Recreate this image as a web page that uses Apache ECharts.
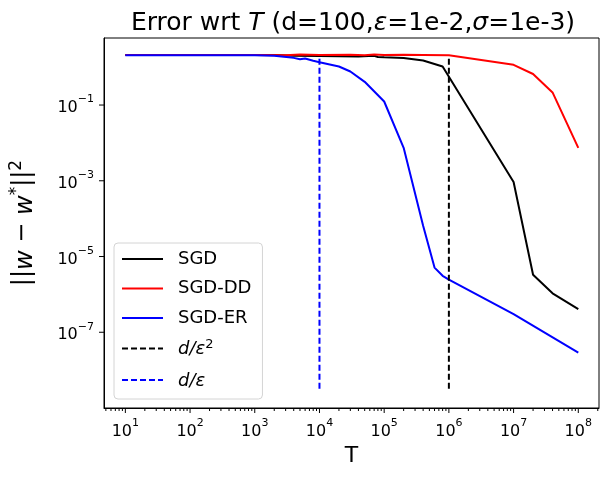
<!DOCTYPE html>
<html>
<head>
<meta charset="utf-8">
<script src="https://cdn.jsdelivr.net/npm/echarts@6/dist/echarts.min.js"></script>
<style>
  html, body { margin: 0; padding: 0; background: #fff; }
  #chart { width: 610px; height: 479px; }
</style>
</head>
<body>
<div id="chart"></div>
<script>
// values (T on x, ||w - w*||^2 on y)
const sgdT = [10, 100, 1000, 2000, 4000, 1e4, 2e4, 4e4, 7e4, 8e4, 1e5, 2e5, 4e5, 8e5, 1e7, 2e7, 4e7, 1e8];
const sgdErr = [2.1, 2.1, 2.1, 2.08, 2.0, 1.97, 1.93, 1.9, 2.0, 1.85, 1.82, 1.74, 1.5, 1.04, 9.3e-4, 3.3e-6, 1.07e-6, 4.1e-7];

const ddT = [10, 100, 1000, 3000, 5000, 1e4, 3e4, 5e4, 7e4, 1e5, 2e5, 4e5, 1e6, 1e7, 2e7, 4e7, 1e8];
const ddErr = [2.1, 2.1, 2.1, 2.05, 2.15, 2.1, 2.12, 2.05, 2.15, 2.1, 2.12, 2.1, 2.07, 1.15, 0.66, 0.215, 0.0074];

const erT = [10, 100, 1000, 2000, 4000, 5000, 6000, 8000, 1e4, 2e4, 3e4, 5e4, 1e5, 2e5, 4e5, 6e5, 8e5, 1e6, 1e7, 1e8];
const erErr = [2.05, 2.05, 2.05, 2.0, 1.76, 1.62, 1.7, 1.47, 1.35, 1.04, 0.77, 0.41, 0.124, 0.0074, 6.5e-5, 5.1e-6, 3.1e-6, 2.46e-6, 3.0e-7, 2.9e-8];

// vertical reference lines d/eps^2 and d/eps
const vlineY = [3.2e-9, 2.0];
const dEps2X = 1e6;
const dEpsX = 1e4;

// axis ticks
const xTickExp = [1, 2, 3, 4, 5, 6, 7, 8];
const yTickExp = [-7, -5, -3, -1];
const minorMant = [2, 3, 4, 5, 6, 7, 8, 9];
const minorDecades = [1, 10, 100, 1e3, 1e4, 1e5, 1e6, 1e7, 1e8];

const xMin = Math.pow(10, 0.67), xMax = Math.pow(10, 8.32);
const yMin = 1e-9, yMax = Math.pow(10, 0.77);

const FONT = 'DejaVu Sans';

const minorX = [];
minorDecades.forEach(d => minorMant.forEach(m => {
  const v = m * d;
  if (v > xMin && v < xMax) minorX.push([v, 1, 3]);
}));
const majorX = xTickExp.map(e => [Math.pow(10, e), 1, 5]);
const majorY = yTickExp.map(e => [10, Math.pow(10, e), 5]);

function pair(xs, ys) { return xs.map((x, i) => [x, ys[i]]); }

function powLabel(v, allowed) {
  const l = Math.log10(v);
  const e = Math.round(l);
  if (Math.abs(l - e) > 1e-6 || allowed.indexOf(e) < 0) return '';
  return '{b|10}{s|' + (e < 0 ? '\u2212' + (-e) : e) + '}';
}

const labelRich = {
  b: { fontFamily: FONT, fontSize: 16, color: '#000', lineHeight: 22, verticalAlign: 'bottom' },
  s: { fontFamily: FONT, fontSize: 11, color: '#000', lineHeight: 12, verticalAlign: 'top' }
};

// tick marks drawn at axis values (outside the plot, like matplotlib)
function xTickItem(params, api) {
  const x = api.coord([api.value(0), api.value(1)])[0];
  const cs = params.coordSys;
  const yb = cs.y + cs.height;
  return { type: 'line', shape: { x1: x, y1: yb, x2: x, y2: yb + api.value(2) }, style: { stroke: '#000', lineWidth: 1 } };
}
function yTickItem(params, api) {
  const y = api.coord([api.value(0), api.value(1)])[1];
  const cs = params.coordSys;
  return { type: 'line', shape: { x1: cs.x, y1: y, x2: cs.x - api.value(2), y2: y }, style: { stroke: '#000', lineWidth: 1 } };
}

let mychart = echarts.init(document.getElementById('chart'));
let option = {
  animation: false,
  backgroundColor: '#fff',
  title: {
    text: 'Error wrt {i|T} (d=100,{i|ε}=1e-2,{i|σ}=1e-3)',
    left: 348,
    textAlign: 'center',
    top: 6,
    textStyle: {
      fontFamily: FONT, fontSize: 25, fontWeight: 'normal', color: '#000',
      rich: { i: { fontFamily: FONT, fontSize: 25, fontStyle: 'italic', color: '#000' } }
    }
  },
  grid: {
    left: 104, right: 11, top: 38, bottom: 71,
    outerBoundsMode: 'none',
    containLabel: false,
    show: true, borderColor: '#000', borderWidth: 1, backgroundColor: 'transparent'
  },
  legend: {
    orient: 'vertical',
    left: 114, top: 243,
    data: ['SGD', 'SGD-DD', 'SGD-ER', 'd/ε²', 'd/ε'],
    itemWidth: 41, itemHeight: 16, itemGap: 11.5,
    padding: [7, 11, 9, 7],
    itemStyle: { opacity: 0 },
    borderColor: '#d4d4d4', borderWidth: 1, borderRadius: 4,
    backgroundColor: 'rgba(255,255,255,0.8)',
    formatter: function (name) {
      if (name === 'd/ε²') return '{i|d/ε}{s|2}';
      if (name === 'd/ε') return '{i|d/ε}';
      return name;
    },
    textStyle: {
      fontFamily: FONT, fontSize: 18, color: '#000', padding: [0, 0, 0, 10], lineHeight: 16,
      rich: {
        i: { fontFamily: FONT, fontSize: 18, fontStyle: 'italic', color: '#000', lineHeight: 20, verticalAlign: 'bottom' },
        s: { fontFamily: FONT, fontSize: 13, color: '#000', lineHeight: 14, verticalAlign: 'top' }
      }
    }
  },
  xAxis: {
    type: 'log',
    min: xMin, max: xMax,
    name: 'T',
    nameLocation: 'middle',
    nameGap: 37,
    nameTextStyle: { fontFamily: FONT, fontSize: 22, color: '#000' },
    axisLine: { show: true, lineStyle: { color: '#000', width: 1 } },
    axisTick: { show: false },
    axisLabel: { margin: 10, formatter: v => powLabel(v, xTickExp), rich: labelRich },
    splitLine: { show: false }
  },
  yAxis: {
    type: 'log',
    min: yMin, max: yMax,
    interval: 2,
    name: '||{i|w} − {i|w}{s|*}||{s|2}',
    nameLocation: 'middle',
    nameGap: 66,
    nameTextStyle: {
      fontFamily: FONT, fontSize: 24, color: '#000',
      rich: {
        i: { fontFamily: FONT, fontSize: 24, fontStyle: 'italic', color: '#000', lineHeight: 30, verticalAlign: 'bottom' },
        s: { fontFamily: FONT, fontSize: 17, color: '#000', lineHeight: 15, verticalAlign: 'top' }
      }
    },
    axisLine: { show: true, lineStyle: { color: '#000', width: 1 } },
    axisTick: { show: false },
    axisLabel: { margin: 10, formatter: v => powLabel(v, yTickExp), rich: labelRich },
    splitLine: { show: false }
  },
  series: [
    {
      name: 'SGD', type: 'line', data: pair(sgdT, sgdErr), symbol: 'none',
      lineStyle: { color: '#000', width: 2 }, itemStyle: { color: '#000' }, z: 3
    },
    {
      name: 'SGD-DD', type: 'line', data: pair(ddT, ddErr), symbol: 'none',
      lineStyle: { color: '#ff0000', width: 2 }, itemStyle: { color: '#ff0000' }, z: 4
    },
    {
      name: 'SGD-ER', type: 'line', data: pair(erT, erErr), symbol: 'none',
      lineStyle: { color: '#0000ff', width: 2 }, itemStyle: { color: '#0000ff' }, z: 5
    },
    {
      name: 'd/ε²', type: 'line', data: vlineY.map(y => [dEps2X, y]), symbol: 'none',
      lineStyle: { color: '#000', width: 2, type: [6, 3] }, itemStyle: { color: '#000' }, z: 6
    },
    {
      name: 'd/ε', type: 'line', data: vlineY.map(y => [dEpsX, y]), symbol: 'none',
      lineStyle: { color: '#0000ff', width: 2, type: [6, 3] }, itemStyle: { color: '#0000ff' }, z: 6
    },
    { type: 'custom', name: 'xMinor', silent: true, clip: false, data: minorX, renderItem: xTickItem },
    { type: 'custom', name: 'xMajor', silent: true, clip: false, data: majorX, renderItem: xTickItem },
    { type: 'custom', name: 'yMajor', silent: true, clip: false, data: majorY, renderItem: yTickItem }
  ]
};
mychart.setOption(option);
</script>
</body>
</html>
